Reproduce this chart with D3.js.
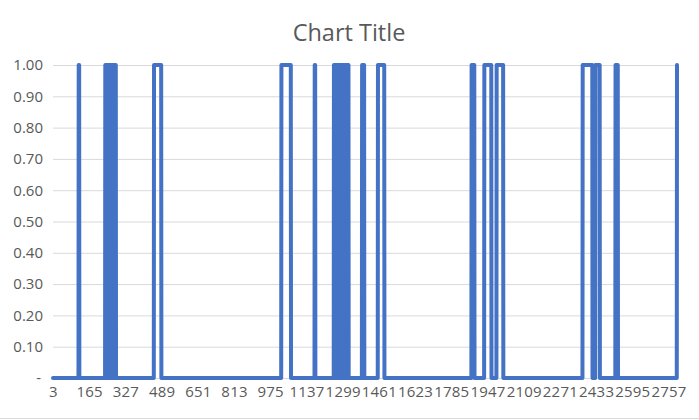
<!DOCTYPE html>
<html>
<head>
<meta charset="utf-8">
<script src="https://cdn.jsdelivr.net/npm/d3@7"></script>
<style>
  html, body { margin: 0; padding: 0; background: #ffffff; }
  svg { display: block; }
</style>
</head>
<body>
<svg id="chart" width="699" height="420"></svg>
<script>
// ---- data ----
const chartTitle = "Chart Title";
const firstCategory = 3;
const lastCategory = 2795;
// runs of consecutive categories where the series value is 1 (all other categories are 0)
const onRuns = [
  [118, 120],
  [237, 241], [246, 249], [254, 258], [262, 265], [270, 274], [278, 284],
  [455, 487],
  [1025, 1067],
  [1174, 1176],
  [1260, 1264], [1269, 1273], [1278, 1283], [1287, 1291], [1296, 1300], [1305, 1309], [1314, 1318], [1321, 1325],
  [1386, 1395],
  [1457, 1485],
  [1876, 1888],
  [1933, 1964], [1988, 2017],
  [2373, 2416], [2430, 2449],
  [2520, 2530],
  [2795, 2795]
];
const xTickLabels = [3, 165, 327, 489, 651, 813, 975, 1137, 1299, 1461, 1623, 1785, 1947, 2109, 2271, 2433, 2595, 2757];
const yTickValues = [0, 0.1, 0.2, 0.3, 0.4, 0.5, 0.6, 0.7, 0.8, 0.9, 1.0];

// build series table from the runs
const categories = d3.range(firstCategory, lastCategory + 1);
const series = categories.map(c => ({
  cat: c,
  value: onRuns.some(([a, b]) => c >= a && c <= b) ? 1 : 0
}));

// ---- layout ----
const svg = d3.select("#chart");
const plot = { left: 53, right: 677, top: 65, bottom: 378 };
const x = d3.scaleLinear().domain([firstCategory, lastCategory]).range([plot.left, plot.right]);
const y = d3.scaleLinear().domain([0, 1]).range([plot.bottom, plot.top]);
const textColor = "#595959";
const font = "'Open Sans', 'Liberation Sans', sans-serif";

// chart area bottom border
svg.append("line")
  .attr("x1", 0).attr("x2", 699).attr("y1", 418.5).attr("y2", 418.5)
  .attr("stroke", "#d9d9d9").attr("stroke-width", 1);

// title
svg.append("text")
  .attr("x", 349).attr("y", 41)
  .attr("text-anchor", "middle")
  .attr("font-family", font).attr("font-size", 23.5)
  .attr("fill", textColor)
  .text(chartTitle);

// gridlines
const yAxis = d3.axisLeft(y).tickValues(yTickValues).tickSize(-(plot.right - 2 - plot.left))
  .tickFormat(d => d === 0 ? "-" : d3.format(".2f")(d)).tickPadding(10);
const gy = svg.append("g").attr("transform", `translate(${plot.left},0)`).call(yAxis);
gy.select(".domain").remove();
gy.selectAll(".tick line").attr("stroke", "#d9d9d9").attr("stroke-width", 1);
gy.selectAll(".tick text")
  .attr("font-family", font).attr("font-size", 15).attr("fill", textColor)
  .attr("x", d => d === 0 ? -12 : -10);

// x axis labels
const xAxis = d3.axisBottom(x).tickValues(xTickLabels).tickSize(0).tickFormat(d3.format("d")).tickPadding(8);
const gx = svg.append("g").attr("transform", `translate(0,${plot.bottom})`).call(xAxis);
gx.select(".domain").remove();
gx.selectAll(".tick text")
  .attr("font-family", font).attr("font-size", 15).attr("letter-spacing", 0.2).attr("fill", textColor);

// series line
const line = d3.line().x(d => x(d.cat)).y(d => y(d.value));
svg.append("path")
  .datum(series)
  .attr("d", line)
  .attr("fill", "none")
  .attr("stroke", "#4472C4")
  .attr("stroke-width", 4)
  .attr("stroke-linejoin", "round")
  .attr("stroke-linecap", "round");
</script>
</body>
</html>
